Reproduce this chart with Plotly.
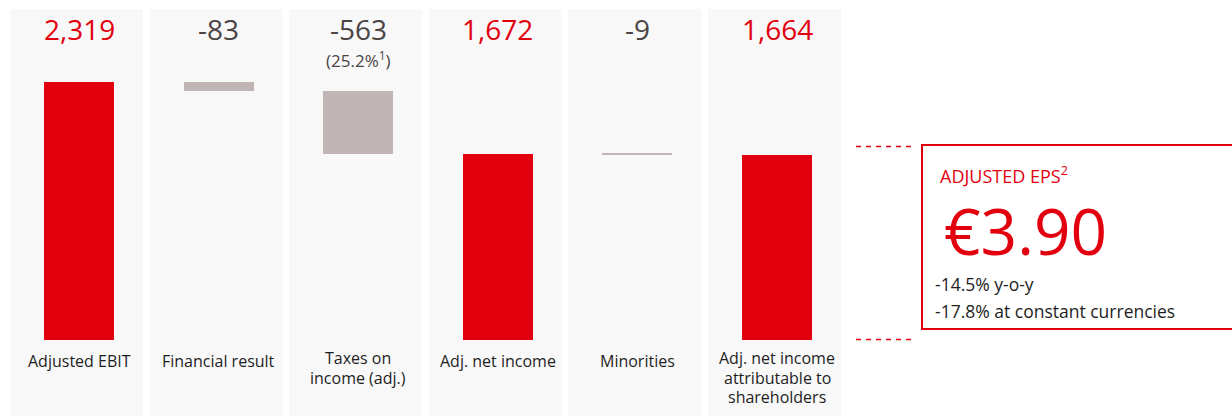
import plotly.graph_objects as go

# ---------------- data ----------------
categories = ["Adjusted EBIT", "Financial result", "Taxes on<br>income (adj.)",
              "Adj. net income", "Minorities",
              "Adj. net income<br>attributable to<br>shareholders"]
values = [2319, -83, -563, 1672, -9, 1664]
measures = ["total", "relative", "relative", "total", "relative", "total"]
value_labels = ["2,319", "-83", "-563", "1,672", "-9", "1,664"]
sub_labels = ["", "", "(25.2%<sup>1</sup>)", "", "", ""]
eps_title = "ADJUSTED EPS<sup>2</sup>"
eps_value = "€3.90"
eps_notes = ["-14.5% y-o-y", "-17.8% at constant currencies"]

# ---------------- style ----------------
RED = "#E2000F"
GREY_BAR = "#C0B4B4"
GREY_TXT = "#4B4444"
DARK_TXT = "#1E1E1E"
PANEL = "#F8F8F8"
FONT = "Open Sans"
W, H = 1232, 416

# waterfall bases computed from the values
bases, heights, colors = [], [], []
running = 0
for v, m in zip(values, measures):
    if m == "total":
        bases.append(0)
        heights.append(v)
        running = v
        colors.append(RED)
    else:
        bases.append(running + v)
        heights.append(-v)
        running += v
        colors.append(GREY_BAR)

idx = list(range(len(categories)))

fig = go.Figure()
fig.add_trace(go.Bar(x=idx, y=heights, base=bases, marker=dict(color=colors, line=dict(width=0)),
                     width=0.501, hoverinfo="skip", showlegend=False))

def py(px):  # pixel from top -> paper y
    return 1 - px / H

def pxx(px):
    return px / W

shapes = []
for i in idx:
    c = i - 0.018
    shapes.append(dict(type="rect", xref="x", yref="paper", x0=c - 0.476, x1=c + 0.476,
                       y0=0, y1=py(9), fillcolor=PANEL, line=dict(width=0), layer="below"))

# EPS box and dashed guide lines
shapes.append(dict(type="rect", xref="paper", yref="paper", x0=pxx(922), x1=pxx(1240),
                   y0=py(329), y1=py(145), line=dict(color=RED, width=2), fillcolor="rgba(0,0,0,0)"))
for ypx in (146.5, 339.5):
    shapes.append(dict(type="line", xref="paper", yref="paper", x0=pxx(856), x1=pxx(911),
                       y0=py(ypx), y1=py(ypx), line=dict(color=RED, width=1.5, dash="5px,5px")))

ann = []
for i in idx:
    col = RED if measures[i] == "total" else GREY_TXT
    ann.append(dict(x=i, y=py(29), xref="x", yref="paper", text=value_labels[i], showarrow=False,
                    font=dict(family=FONT, size=28, color=col), xanchor="center", yanchor="middle"))
    if sub_labels[i]:
        ann.append(dict(x=i, y=py(59), xref="x", yref="paper", text=sub_labels[i], showarrow=False,
                        font=dict(family=FONT, size=17, color=GREY_TXT), xanchor="center", yanchor="middle"))
    lines = categories[i].split("<br>")
    first = 361 if len(lines) == 1 else 358
    for k, ln in enumerate(lines):
        ann.append(dict(x=i, y=py(first + 19.5 * k), xref="x", yref="paper", text=ln, showarrow=False,
                        font=dict(family=FONT, size=16, color=DARK_TXT), xanchor="center", yanchor="middle"))

ann.append(dict(x=pxx(938), y=py(175), xref="paper", yref="paper", text=eps_title, showarrow=False,
                font=dict(family=FONT, size=18, color=RED), xanchor="left", yanchor="middle"))
ann.append(dict(x=pxx(942), y=py(230), xref="paper", yref="paper", text=eps_value, showarrow=False,
                font=dict(family=FONT, size=64, color=RED), xanchor="left", yanchor="middle"))
for k, note in enumerate(eps_notes):
    ann.append(dict(x=pxx(933), y=py(284 + 27 * k), xref="paper", yref="paper", text=note, showarrow=False,
                    font=dict(family=FONT, size=17.5, color=DARK_TXT), xanchor="left", yanchor="middle"))

fig.update_layout(
    width=W, height=H, margin=dict(l=0, r=0, t=0, b=0),
    paper_bgcolor="white", plot_bgcolor="rgba(0,0,0,0)",
    xaxis=dict(range=[-0.566, 8.259], visible=False, fixedrange=True),
    yaxis=dict(range=[-683, 3056], visible=False, fixedrange=True),
    shapes=shapes, annotations=ann, bargap=0,
)

fig.write_html("out.html")
